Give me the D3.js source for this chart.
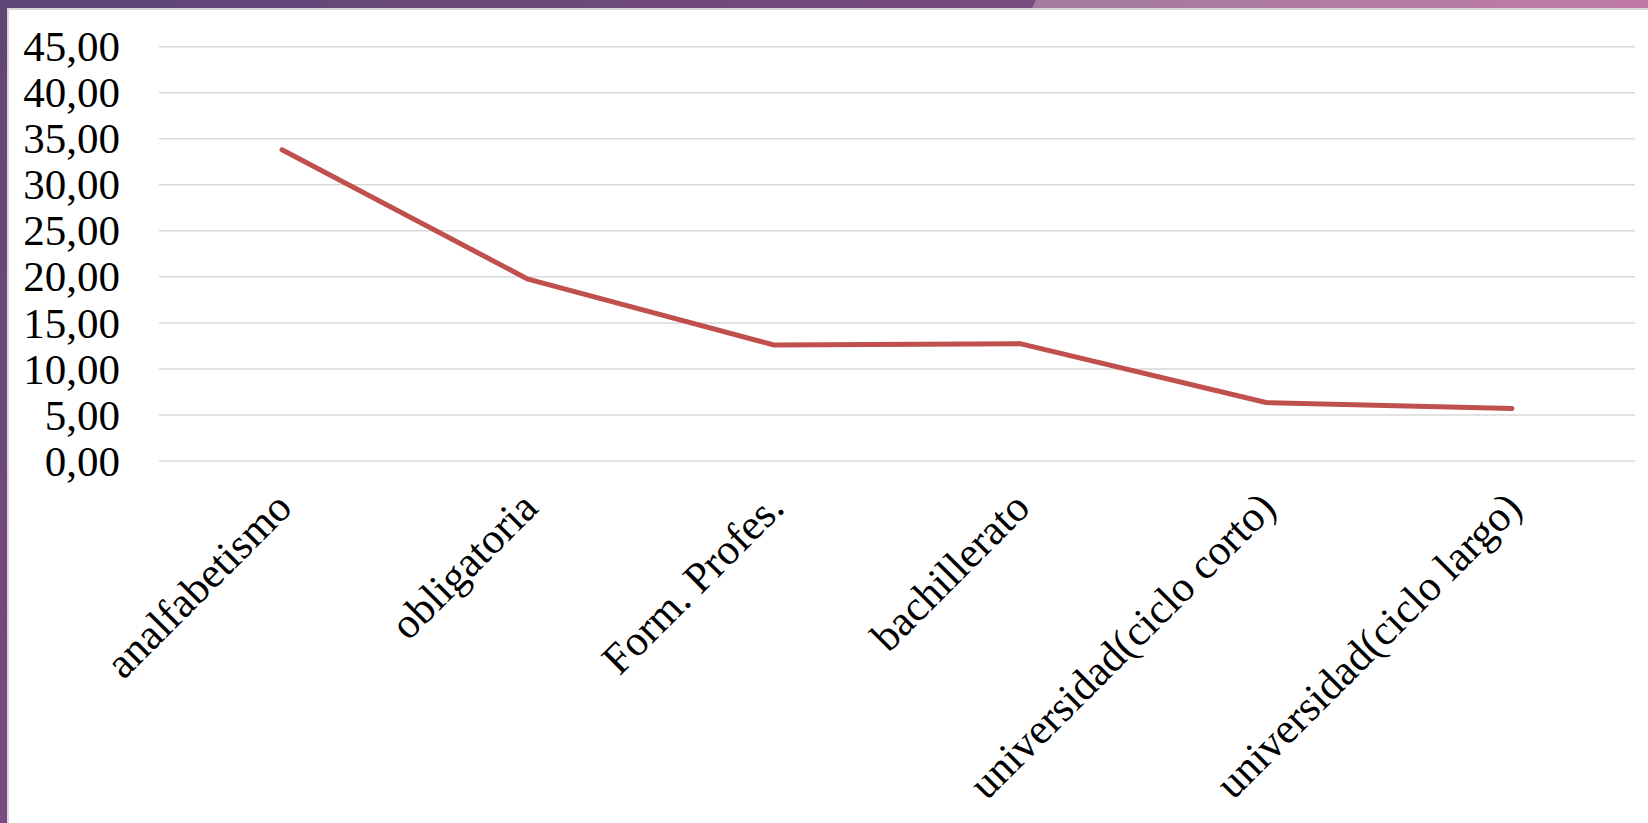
<!DOCTYPE html>
<html><head><meta charset="utf-8">
<script src="https://cdn.jsdelivr.net/npm/d3@7/dist/d3.min.js"></script>
<style>html,body{margin:0;padding:0;background:#fff;overflow:hidden}</style>
</head><body>
<svg id="c" width="1648" height="823"></svg>
<script>
const categories = ["analfabetismo","obligatoria","Form. Profes.","bachillerato","universidad(ciclo corto)","universidad(ciclo largo)"];
const values = [33.8, 19.75, 12.6, 12.75, 6.35, 5.7];
const yTicks = [0,5,10,15,20,25,30,35,40,45];

const W = 1648, H = 823;
const svg = d3.select("#c");
const defs = svg.append("defs");

const g1 = defs.append("linearGradient").attr("id","gTop").attr("x1","0").attr("x2","1");
g1.append("stop").attr("offset","0").attr("stop-color","#5c4677");
g1.append("stop").attr("offset","0.5").attr("stop-color","#744a7c");
g1.append("stop").attr("offset","1").attr("stop-color","#8c4c80");
const g2 = defs.append("linearGradient").attr("id","gTop2").attr("x1","0").attr("x2","1");
g2.append("stop").attr("offset","0").attr("stop-color","#a37b9e");
g2.append("stop").attr("offset","1").attr("stop-color","#c07aa8");
const g3 = defs.append("linearGradient").attr("id","gLeft").attr("x1","0").attr("x2","0").attr("y1","0").attr("y2","1");
g3.append("stop").attr("offset","0").attr("stop-color","#5f4677");
g3.append("stop").attr("offset","1").attr("stop-color","#7a4a80");

svg.append("rect").attr("x",0).attr("y",0).attr("width",W).attr("height",8).attr("fill","url(#gTop)");
svg.append("path").attr("d","M1036,0 L1648,0 L1648,8 L1032,8 Z").attr("fill","url(#gTop2)");
svg.append("rect").attr("x",0).attr("y",0).attr("width",7).attr("height",H).attr("fill","url(#gLeft)");
svg.append("rect").attr("x",7).attr("y",8).attr("width",W-7).attr("height",2).attr("fill","#d8d8d8");
svg.append("rect").attr("x",7).attr("y",8).attr("width",2).attr("height",H-8).attr("fill","#d8d8d8");

const x0 = 159, x1 = 1635, yTop = 46.7, yBot = 461;
const x = d3.scaleBand().domain(categories).range([x0, x1]).padding(0);
const y = d3.scaleLinear().domain([0,45]).range([yBot, yTop]);

svg.append("g").selectAll("line").data(yTicks).join("line")
  .attr("x1", x0).attr("x2", x1)
  .attr("y1", d => y(d)).attr("y2", d => y(d))
  .attr("stroke","#d9d9d9").attr("stroke-width",1.5);

const fmt = d => d3.format(".2f")(d).replace(".", ",");
svg.append("g").selectAll("text").data(yTicks).join("text")
  .attr("x", 120).attr("y", d => y(d)).attr("dy","0.34em")
  .attr("text-anchor","end")
  .attr("font-family","Liberation Serif, Times New Roman, serif")
  .attr("font-size",43).attr("fill","#000")
  .text(fmt);

svg.append("g").selectAll("text").data(categories).join("text")
  .attr("transform", d => `translate(${x(d) + x.bandwidth()/2 + 12},${yBot + 49}) rotate(-45)`)
  .attr("text-anchor","end")
  .attr("font-family","Liberation Serif, Times New Roman, serif")
  .attr("font-size",43).attr("fill","#000")
  .text(d => d);

const line = d3.line()
  .x((d,i) => x(categories[i]) + x.bandwidth()/2)
  .y(d => y(d));
svg.append("path").datum(values)
  .attr("d", line)
  .attr("fill","none").attr("stroke","#c0504d").attr("stroke-width",5)
  .attr("stroke-linecap","round").attr("stroke-linejoin","round");
</script>
</body></html>
